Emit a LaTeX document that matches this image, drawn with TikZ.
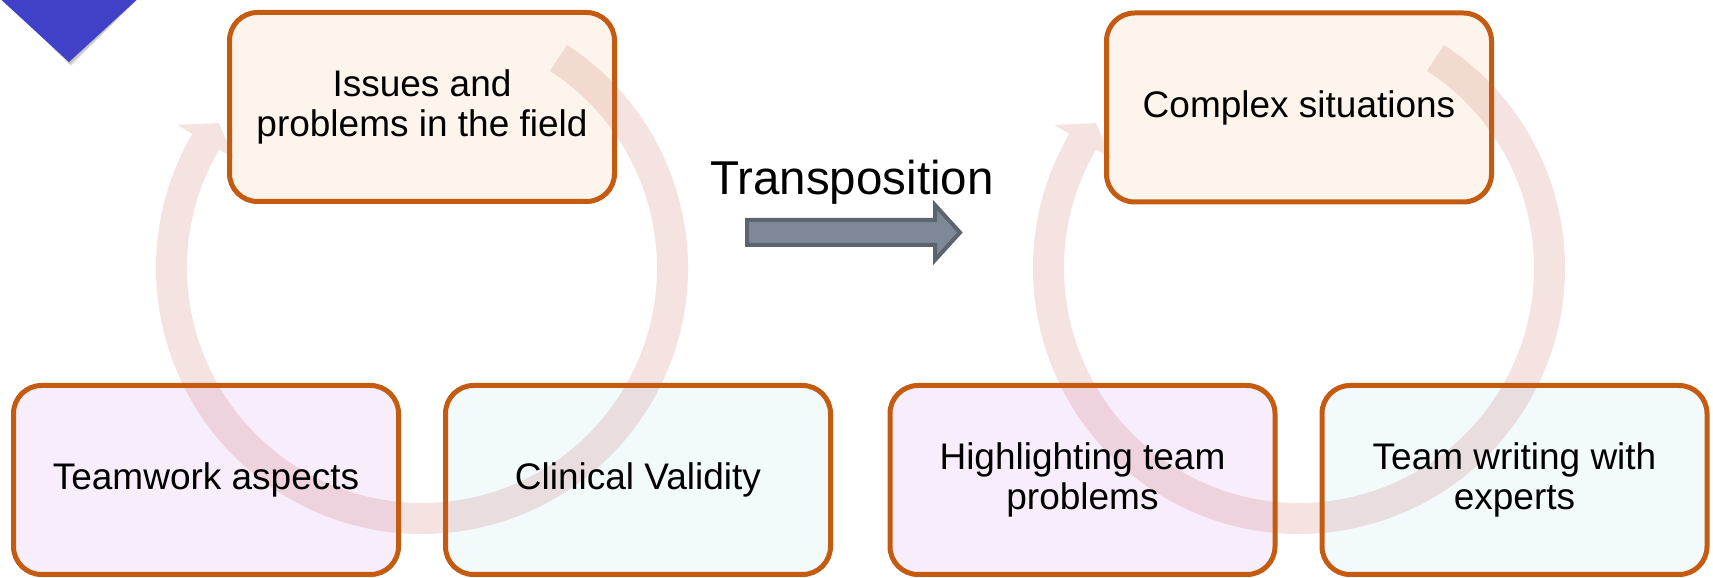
\documentclass[tikz,border=0pt]{standalone}
\usepackage{fontspec}
\setmainfont{Liberation Sans}
\definecolor{bordc}{HTML}{C55A11}
\definecolor{topfill}{HTML}{FDF5EB}
\definecolor{purfill}{HTML}{F8EDFA}
\definecolor{bluefill}{HTML}{F2FAFC}
\definecolor{ringc}{HTML}{C0504D}
\definecolor{arrfill}{HTML}{7F8896}
\definecolor{arrdraw}{HTML}{5C6470}
\definecolor{tric}{HTML}{4040C8}
\tikzset{
  boxbg/.style={minimum width=385pt, minimum height=189pt, rounded corners=28pt, inner sep=0pt},
  boxfg/.style={boxbg, draw=bordc, line width=5pt, align=center, font=\fontsize{37}{40}\selectfont},
  ringstyle/.style={fill=ringc, fill opacity=0.16},
  blockarrow/.style={fill=arrfill, draw=arrdraw, line width=4pt, line join=miter},
}
\begin{document}
\begin{tikzpicture}[x=1pt,y=1pt]
\useasboundingbox (0,0) rectangle (1713,578);
% corner marker
\fill[black, opacity=0.12] (-2,585) -- (71,512) -- (144,585) -- cycle;
\fill[black, opacity=0.12] (-3,584) -- (70,513.5) -- (143,584) -- cycle;
\fill[tric] (-5,584) -- (69,516) -- (143,584) -- cycle;
% box backgrounds
\node[boxbg, fill=topfill] (Abg) at (422,471) {};
\node[boxbg, fill=topfill] (Bbg) at (1299,470.5) {};
\node[boxbg, fill=purfill] (Cbg) at (206,98) {};
\node[boxbg, fill=bluefill] (Dbg) at (638,98) {};
\node[boxbg, fill=purfill] (Ebg) at (1082.5,98) {};
\node[boxbg, fill=bluefill] (Fbg) at (1514.5,98) {};
% circular arrows
\foreach \cx in {422,1299}{
  \begin{scope}[shift={(\cx,310)}]
    \fill[ringstyle] (57:266) arc[start angle=57, end angle=-210.3, radius=266]
      -- (149.7:283.7) -- (144.5:249.5) -- (149.7:217.5) -- (149.7:235)
      arc[start angle=-210.3, end angle=57, radius=235] -- cycle;
  \end{scope}
}
% box borders and texts
\node[boxfg] (A) at (Abg) {Issues and\\problems in the field};
\node[boxfg] (B) at (Bbg) {Complex situations};
\node[boxfg] (C) at (Cbg) {Teamwork aspects};
\node[boxfg] (D) at (Dbg) {Clinical Validity};
\node[boxfg] (E) at (Ebg) {Highlighting team\\problems};
\node[boxfg] (F) at (Fbg) {Team writing with\\experts};
% transposition
\node[font=\fontsize{47.5}{52}\selectfont, anchor=base, inner sep=0pt] (trans) at (852,383) {Transposition};
\draw[blockarrow] (747,358) -- (935,358) -- (935,373) -- (960,345.5) -- (935,318) -- (935,333) -- (747,333) -- cycle;
\end{tikzpicture}
\end{document}
